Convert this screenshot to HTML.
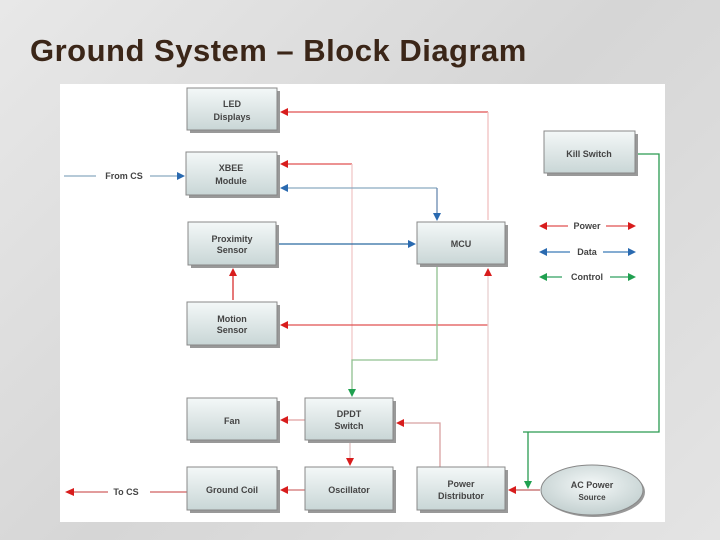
<!DOCTYPE html>
<html><head><style>
body{margin:0;width:720px;height:540px;overflow:hidden;background:#dedede;font-family:"Liberation Sans",sans-serif;}
#title{position:absolute;left:30px;top:33px;font-size:31px;letter-spacing:0.5px;font-weight:bold;color:#3b2618;font-family:"Liberation Sans",sans-serif;white-space:nowrap;}
svg{position:absolute;left:0;top:0}
</style></head><body>
<div style="position:absolute;left:0;top:0;width:720px;height:540px;background:linear-gradient(135deg,#e8e8e8,#d6d6d6 50%,#e4e4e4)"></div>
<div id="title">Ground System – Block Diagram</div>
<svg width="720" height="540" viewBox="0 0 720 540" font-family="Liberation Sans, sans-serif">
<defs>
<linearGradient id="g" x1="0" y1="0" x2="0" y2="1"><stop offset="0" stop-color="#f4f8f8"/><stop offset="1" stop-color="#c9d6d6"/></linearGradient>
<radialGradient id="e" cx="0.5" cy="0.4" r="0.6"><stop offset="0" stop-color="#f4f8f8"/><stop offset="1" stop-color="#c3d0d0"/></radialGradient>
</defs>
<rect x="60" y="84" width="605" height="438" fill="#fff"/>
<g fill="none" stroke-width="1.3">
<path d="M488 112 H282" stroke="#e05050"/>
<path d="M488 112 V220" stroke="#f0c0c0"/>
<path d="M352 164 H282" stroke="#e05050"/>
<path d="M352 164 V360" stroke="#f0c8c8"/>
<path d="M233 300 V272" stroke="#d83030"/>
<path d="M488 325 H282" stroke="#e05050"/>
<path d="M488 272 V467" stroke="#e8d0d0"/>
<path d="M440 467 V423 H398" stroke="#d8a0a0"/>
<path d="M305 420 H282" stroke="#e0a0a0"/>
<path d="M350 440 V462" stroke="#e0c0c0"/>
<path d="M305 490 H282" stroke="#d07070"/>
<path d="M187 492 H150 M108 492 H72" stroke="#d06060"/>
<path d="M540 490 H512" stroke="#c06060"/>
<path d="M64 176 H96 M150 176 H182" stroke="#8aaac0"/>
<path d="M437 188 H282" stroke="#8aaac0"/>
<path d="M437 188 V214" stroke="#6a8ab0"/>
<path d="M278 244 H411" stroke="#2a6aa0"/>
<path d="M437 265 V360 H352 V390" stroke="#90c090"/>
<path d="M638 154 H659 V432 H523" stroke="#2a9a50"/>
<path d="M528 432 V484" stroke="#2a9a50"/>
<path d="M546 226 H568 M606 226 H628" stroke="#e05050"/>
<path d="M546 252 H570 M603 252 H628" stroke="#3a7ab8"/>
<path d="M546 277 H562 M610 277 H628" stroke="#30a060"/>
</g>
<g fill="#d81c1c">
<path d="M280 112 l8 -4 v8z"/><path d="M280 164 l8 -4 v8z"/><path d="M233 268 l-4 8 h8z"/>
<path d="M280 325 l8 -4 v8z"/><path d="M488 268 l-4 8 h8z"/><path d="M396 423 l8 -4 v8z"/>
<path d="M280 420 l8 -4 v8z"/><path d="M350 466 l-4 -8 h8z"/><path d="M280 490 l8 -4 v8z"/>
<path d="M65 492 l9 -4 v8z"/><path d="M508 490 l8 -4 v8z"/>
<path d="M539 226 l8 -4 v8z"/><path d="M636 226 l-8 -4 v8z"/>
</g>
<g fill="#2a6ab0">
<path d="M185 176 l-8 -4 v8z"/><path d="M280 188 l8 -4 v8z"/><path d="M437 221 l-4 -8 h8z"/><path d="M416 244 l-8 -4 v8z"/>
<path d="M539 252 l8 -4 v8z"/><path d="M636 252 l-8 -4 v8z"/>
</g>
<g fill="#20a050">
<path d="M352 397 l-4 -8 h8z"/><path d="M528 489 l-4 -8 h8z"/>
<path d="M539 277 l8 -4 v8z"/><path d="M636 277 l-8 -4 v8z"/>
</g>
<g stroke="#888" stroke-width="1" fill="url(#g)">
<rect x="190" y="91" width="90" height="42" fill="#999" stroke="none"/><rect x="187" y="88" width="90" height="42"/>
<rect x="189" y="155" width="91" height="43" fill="#999" stroke="none"/><rect x="186" y="152" width="91" height="43"/>
<rect x="191" y="225" width="88" height="43" fill="#999" stroke="none"/><rect x="188" y="222" width="88" height="43"/>
<rect x="190" y="305" width="90" height="43" fill="#999" stroke="none"/><rect x="187" y="302" width="90" height="43"/>
<rect x="190" y="401" width="90" height="42" fill="#999" stroke="none"/><rect x="187" y="398" width="90" height="42"/>
<rect x="190" y="470" width="90" height="43" fill="#999" stroke="none"/><rect x="187" y="467" width="90" height="43"/>
<rect x="308" y="401" width="88" height="42" fill="#999" stroke="none"/><rect x="305" y="398" width="88" height="42"/>
<rect x="308" y="470" width="88" height="43" fill="#999" stroke="none"/><rect x="305" y="467" width="88" height="43"/>
<rect x="420" y="470" width="88" height="43" fill="#999" stroke="none"/><rect x="417" y="467" width="88" height="43"/>
<rect x="420" y="225" width="88" height="42" fill="#999" stroke="none"/><rect x="417" y="222" width="88" height="42"/>
<rect x="547" y="134" width="91" height="42" fill="#999" stroke="none"/><rect x="544" y="131" width="91" height="42"/>
<ellipse cx="594" cy="492" rx="51" ry="25" fill="#999" stroke="none"/><ellipse cx="592" cy="490" rx="51" ry="25" fill="url(#e)"/>
</g>
<g font-size="9" font-weight="bold" fill="#444" text-anchor="middle">
<text x="232" y="107">LED</text><text x="232" y="120">Displays</text>
<text x="231" y="171">XBEE</text><text x="231" y="184">Module</text>
<text x="232" y="242">Proximity</text><text x="232" y="253">Sensor</text>
<text x="232" y="322">Motion</text><text x="232" y="333">Sensor</text>
<text x="232" y="424">Fan</text>
<text x="232" y="493">Ground Coil</text>
<text x="349" y="417">DPDT</text><text x="349" y="429">Switch</text>
<text x="349" y="493">Oscillator</text>
<text x="461" y="487">Power</text><text x="461" y="499">Distributor</text>
<text x="461" y="247">MCU</text>
<text x="589" y="157">Kill Switch</text>
<text x="592" y="488">AC Power</text><text x="592" y="500" font-size="8">Source</text>
<text x="124" y="179">From CS</text>
<text x="126" y="495">To CS</text>
<text x="587" y="229">Power</text>
<text x="587" y="255">Data</text>
<text x="587" y="280">Control</text>
</g>
</svg>
</body></html>
